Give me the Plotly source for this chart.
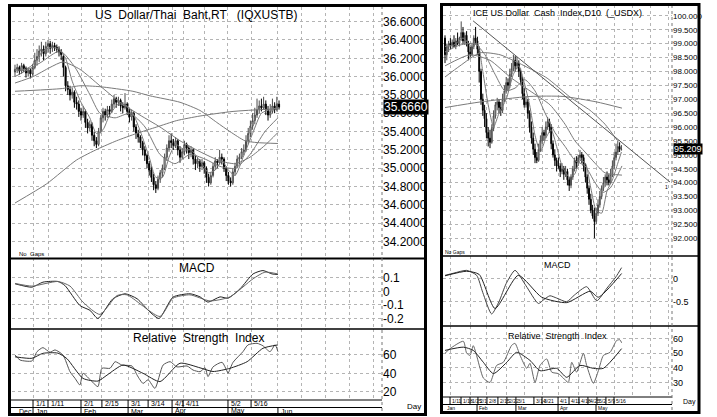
import plotly.graph_objects as go

W, H = 717, 417
FONT = "Liberation Sans Narrow, Arial Narrow, Liberation Sans, Arial, sans-serif"

# ---------------- Left chart: US Dollar / Thai Baht (daily bars, x = trading-day number) ----------------
thb_open = [36.05,36.08,36.10,36.06,36.12,36.09,36.04,36.07,36.03,36.10,
            36.18,36.22,36.28,36.30,36.25,36.33,36.36,36.31,36.34,36.32,
            36.30,36.27,36.22,36.10,35.90,35.86,35.80,35.83,35.72,35.70,
            35.62,35.58,35.62,35.50,35.44,35.48,35.36,35.30,35.26,35.40,
            35.55,35.62,35.58,35.64,35.62,35.70,35.76,35.72,35.74,35.68,
            35.66,35.70,35.62,35.56,35.60,35.45,35.38,35.34,35.28,35.20,
            35.14,35.05,34.98,34.90,34.82,34.78,34.88,34.95,35.00,35.12,
            35.22,35.30,35.28,35.25,35.30,35.20,35.12,35.18,35.26,35.22,
            35.17,35.20,35.10,35.05,35.08,35.02,35.06,35.00,34.90,34.84,
            34.92,35.02,35.08,35.06,35.12,35.10,35.00,34.92,34.86,34.84,
            34.96,35.02,35.10,35.12,35.18,35.20,35.30,35.38,35.46,35.52,
            35.58,35.64,35.68,35.66,35.70,35.64,35.58,35.62,35.68,35.64,
            35.70]
thb_high = [36.13,36.14,36.12,36.15,36.14,36.11,36.10,36.09,36.14,36.26,
            36.30,36.34,36.38,36.34,36.38,36.40,36.39,36.38,36.37,36.35,
            36.33,36.30,36.24,36.12,35.95,35.90,35.88,35.85,35.78,35.74,
            35.66,35.68,35.64,35.54,35.52,35.50,35.40,35.34,35.44,35.58,
            35.66,35.65,35.68,35.68,35.75,35.80,35.78,35.78,35.76,35.72,
            35.82,35.72,35.66,35.64,35.62,35.48,35.42,35.36,35.30,35.24,
            35.16,35.08,35.02,34.94,34.86,34.92,34.98,35.04,35.16,35.26,
            35.36,35.38,35.32,35.34,35.32,35.24,35.22,35.30,35.28,35.24,
            35.24,35.22,35.14,35.12,35.10,35.10,35.08,35.02,34.94,34.96,
            35.06,35.12,35.10,35.20,35.16,35.12,35.02,34.96,34.90,35.00,
            35.06,35.14,35.16,35.22,35.26,35.36,35.44,35.52,35.60,35.66,
            35.76,35.74,35.76,35.78,35.74,35.68,35.70,35.76,35.72,35.78,
            35.74]
thb_low = [36.00,36.04,36.02,36.03,36.05,35.99,36.00,35.98,36.01,36.08,
           36.12,36.16,36.22,36.18,36.22,36.26,36.25,36.27,36.28,36.26,
           36.22,36.18,36.00,35.84,35.80,35.74,35.76,35.66,35.64,35.56,
           35.52,35.55,35.44,35.38,35.40,35.30,35.24,35.22,35.24,35.38,
           35.50,35.52,35.55,35.56,35.60,35.66,35.66,35.68,35.62,35.60,
           35.64,35.58,35.50,35.52,35.40,35.32,35.28,35.22,35.14,35.08,
           35.00,34.92,34.85,34.76,34.73,34.76,34.84,34.90,34.98,35.08,
           35.18,35.22,35.20,35.22,35.14,35.06,35.10,35.14,35.16,35.10,
           35.12,35.04,34.98,35.00,34.96,34.98,34.94,34.84,34.80,34.82,
           34.90,34.98,35.00,35.04,35.04,34.96,34.86,34.82,34.80,34.82,
           34.92,35.00,35.04,35.10,35.14,35.18,35.26,35.34,35.42,35.48,
           35.55,35.60,35.62,35.64,35.58,35.52,35.55,35.60,35.60,35.62,
           35.64]
thb_close = [36.08,36.10,36.06,36.12,36.09,36.04,36.07,36.03,36.10,36.18,
             36.22,36.28,36.30,36.25,36.33,36.36,36.31,36.34,36.32,36.30,
             36.27,36.24,36.10,35.90,35.86,35.80,35.83,35.72,35.70,35.62,
             35.58,35.62,35.50,35.44,35.48,35.36,35.30,35.26,35.40,35.55,
             35.62,35.58,35.64,35.62,35.70,35.76,35.72,35.74,35.68,35.66,
             35.70,35.62,35.56,35.60,35.45,35.38,35.34,35.28,35.20,35.14,
             35.05,34.98,34.90,34.82,34.78,34.88,34.95,35.00,35.12,35.22,
             35.30,35.28,35.25,35.30,35.20,35.12,35.18,35.26,35.22,35.17,
             35.20,35.10,35.05,35.08,35.02,35.06,35.00,34.90,34.84,34.92,
             35.02,35.08,35.06,35.12,35.10,35.00,34.92,34.86,34.84,34.96,
             35.02,35.10,35.12,35.18,35.20,35.30,35.38,35.46,35.52,35.58,
             35.64,35.68,35.66,35.70,35.64,35.58,35.62,35.68,35.64,35.70,
             35.666]
thb_last = "35.6660"

# moving averages (day, value)
thb_ma_long_x = [0, 14.4, 28, 37.6, 46.2, 55.3, 64.4, 73.5, 84.1, 99.1, 119.5]
thb_ma_long_y = [34.62, 34.83, 35.09, 35.21, 35.30, 35.38, 35.45, 35.52, 35.57, 35.62, 35.65]
thb_ma100_x = [0, 21.5, 29.5, 38.6, 53.6, 61.4, 75, 84.1, 91.7, 97.7, 104.5, 110, 119.5]
thb_ma100_y = [35.84, 35.87, 35.90, 35.89, 35.84, 35.79, 35.72, 35.63, 35.50, 35.40, 35.30, 35.28, 35.27]
thb_ma50_x = [0, 8.2, 15.9, 21.8, 29.5, 38.6, 47.7, 56.8, 65.9, 75, 84.1, 93.2, 100, 106.8, 113.6, 119.5]
thb_ma50_y = [35.93, 36.00, 36.10, 36.16, 36.08, 35.90, 35.72, 35.58, 35.45, 35.30, 35.18, 35.08, 35.05, 35.12, 35.25, 35.39]
thb_ma20_x = [0, 11.4, 20.5, 27.3, 34.1, 38.6, 45.5, 52.3, 59.1, 65.9, 72.7, 79.5, 86.4, 93.2, 100, 106.8, 113.6, 119.5]
thb_ma20_y = [36.00, 36.15, 36.28, 36.10, 35.80, 35.60, 35.55, 35.60, 35.45, 35.15, 35.05, 35.15, 35.10, 35.02, 35.00, 35.15, 35.40, 35.55]
thb_ma5_x = [0, 5, 9, 12, 16, 20, 23, 26, 30, 34, 37, 40, 43, 47, 51, 54, 57, 61, 64, 67, 70, 73, 77, 80, 84, 88, 91, 94, 97, 100, 104, 108, 112, 116, 120]
thb_ma5_y = [36.07, 36.08, 36.15, 36.26, 36.32, 36.30, 36.20, 35.95, 35.72, 35.55, 35.38, 35.42, 35.58, 35.70, 35.68, 35.58, 35.40, 35.12, 34.90, 34.90,
             35.12, 35.26, 35.20, 35.20, 35.08, 34.95, 34.98, 35.08, 34.98, 34.92, 35.14, 35.38, 35.60, 35.64, 35.66]

thb_macd_x = [0, 7.7, 12.7, 19.5, 22.7, 29.5, 34.1, 37.7, 44.5, 50, 55.5, 61.4, 65.5, 71.8, 79.5, 84.1, 87.7, 93.2, 96.8, 102.3, 108.2, 112.7, 116.8, 119.5]
thb_macd_y = [0.057, 0.032, 0.069, 0.074, 0.044, -0.104, -0.14, -0.20, -0.054, -0.017, -0.054, -0.153, -0.20, -0.042, -0.017, -0.04, -0.079, -0.04, -0.05, 0.02, 0.13, 0.155, 0.13, 0.126]
thb_sig_x = [0, 7.7, 19.5, 25, 30.9, 38.6, 46.4, 50.9, 65.9, 71.8, 79.5, 88.6, 97.7, 108.2, 113.6, 119.5]
thb_sig_y = [0.06, 0.04, 0.074, 0.04, -0.079, -0.17, -0.03, -0.025, -0.185, -0.05, -0.025, -0.07, -0.04, 0.094, 0.143, 0.13]

thb_rsi_x = [0, 2.3, 7.7, 10, 12.7, 15.9, 18.2, 21.8, 25, 27.3, 29.5, 30.9, 35, 37.7, 39.5, 43.2, 45.5, 48.6, 53.2, 55.5, 58.2, 60.5, 63.6, 67.3,
             70.5, 73.6, 78.2, 80.9, 84.1, 86.4, 87.7, 90, 94.1, 96.4, 96.8, 99.1, 103.6, 105.9, 110, 112.7, 115.9, 118.2, 119.5]
thb_rsi_y = [60, 54.5, 53.5, 63.6, 68, 63, 65.5, 60, 41.8, 34.5, 27.3, 40, 31, 25.5, 45.5, 45.5, 52.7, 49, 48, 38, 29, 33, 23.6, 49,
             52.7, 47, 48, 43.6, 41.8, 46, 36.4, 47, 52, 42, 40, 52, 63.6, 71, 72.7, 70, 63.6, 71, 63.6]
thb_rsiavg_x = [0, 7.7, 12.7, 19.5, 23.6, 30.9, 37.7, 41.8, 49.1, 58.2, 65.9, 75, 84.1, 90, 97.7, 105.5, 112.7, 119.5]
thb_rsiavg_y = [58, 56.4, 61.8, 62, 56, 34.5, 31.6, 38, 49, 40, 31, 51, 46, 42, 45.5, 52.7, 67.3, 71]

thb_tick_x = [8.2, 15, 30, 39.5, 51.4, 60.5, 71.4, 76.4, 96.8, 107.3]
thb_tick_txt = ["1/1", "1/11", "2/1", "2/15", "3/1", "3/14", "4/1", "4/11", "5/2", "5/16"]
thb_month_x = [0.4, 8.2, 30, 51.4, 71.4, 96.8, 119.5]
thb_month_txt = ["Dec", "Jan", "Feb", "Mar", "Apr", "May", "Jun"]
thb_grid_x = [8.2, 15, 30, 39.5, 51.4, 60.5, 71.4, 76.4, 86, 96.8, 107.3, 119.5, 130, 141, 152, 163]

# ---------------- Right chart: ICE US Dollar Cash Index ----------------
usdx_open = [99.20,98.60,98.90,99.00,98.95,99.05,98.90,99.10,99.00,99.20,
             99.40,99.10,99.30,99.00,98.70,98.60,98.90,99.20,99.10,98.80,
             98.00,97.00,96.60,96.30,95.80,95.60,95.45,95.95,96.40,96.80,
             96.90,96.70,96.60,97.00,97.30,97.60,97.50,97.90,98.10,98.40,
             98.20,98.30,98.00,97.70,97.20,96.80,96.90,96.50,96.00,95.60,
             95.20,94.90,94.80,95.20,95.50,95.80,95.70,96.00,96.20,96.00,
             95.40,95.00,94.80,94.60,94.60,94.40,94.50,94.30,94.40,94.10,
             93.90,94.20,94.50,94.80,94.70,94.90,95.00,94.90,94.60,94.20,
             93.80,93.40,93.00,92.80,92.60,92.90,93.20,93.50,93.80,94.00,
             94.20,94.10,94.00,94.30,94.60,94.90,95.10,95.30,95.20]
usdx_high = [99.30,99.00,99.10,99.20,99.15,99.30,99.20,99.40,99.25,99.80,
             99.60,99.40,99.45,99.10,98.90,99.00,99.30,99.60,99.25,98.90,
             98.10,97.20,96.80,96.50,96.00,95.90,96.10,96.60,96.90,97.05,
             97.00,96.90,97.20,97.50,97.80,97.75,98.10,98.30,98.60,98.55,
             98.50,98.40,98.10,97.80,97.40,97.10,97.00,96.60,96.20,95.80,
             95.40,95.10,95.40,95.70,96.00,95.90,96.20,96.36,96.30,96.10,
             95.50,95.20,94.90,94.90,94.70,94.70,94.60,94.60,94.50,94.20,
             94.30,94.60,94.90,94.95,95.00,95.17,95.10,95.00,94.70,94.30,
             93.90,93.60,93.20,93.10,93.10,93.40,93.70,93.90,94.20,94.30,
             94.40,94.30,94.50,94.80,95.10,95.40,95.50,95.45,95.35]
usdx_low = [98.30,98.40,98.70,98.80,98.85,98.90,98.80,98.95,98.90,99.10,
            99.00,98.95,98.90,98.40,98.50,98.55,98.80,99.00,98.60,97.60,
            96.80,96.40,96.00,95.60,95.30,95.24,95.40,95.85,96.30,96.60,
            96.50,96.40,96.50,96.90,97.20,97.30,97.40,97.80,98.00,98.00,
            98.10,97.80,97.50,97.00,96.70,96.70,96.30,95.80,95.40,95.00,
            94.70,94.70,94.75,95.10,95.40,95.50,95.60,95.90,95.80,95.20,
            94.90,94.60,94.40,94.50,94.20,94.30,94.10,94.20,93.90,93.70,
            93.80,94.10,94.40,94.50,94.60,94.80,94.70,94.40,94.00,93.60,
            93.20,92.90,92.70,92.00,92.50,92.80,93.10,93.40,93.70,93.85,
            93.90,93.90,93.95,94.20,94.50,94.80,95.00,95.10,95.15]
usdx_close = [98.60,98.90,99.00,98.95,99.05,98.90,99.10,99.00,99.20,99.40,
              99.10,99.30,99.00,98.70,98.60,98.90,99.20,99.10,98.80,98.00,
              97.00,96.60,96.30,95.80,95.60,95.45,95.95,96.40,96.80,96.90,
              96.70,96.60,97.00,97.30,97.60,97.50,97.90,98.10,98.40,98.20,
              98.30,98.00,97.70,97.20,96.80,96.90,96.50,96.00,95.60,95.20,
              94.90,94.80,95.20,95.50,95.80,95.70,96.00,96.20,96.00,95.40,
              95.00,94.80,94.60,94.60,94.40,94.50,94.30,94.40,94.10,93.90,
              94.20,94.50,94.80,94.70,94.90,95.00,94.90,94.60,94.20,93.80,
              93.40,93.00,92.80,92.60,92.90,93.20,93.50,93.80,94.00,94.20,
              94.10,94.00,94.30,94.60,94.90,95.10,95.30,95.20,95.209]
usdx_last = "95.209"

usdx_trend_x = [15.6, 125]
usdx_trend_y = [99.82, 94.02]
usdx_ma_long_x = [0, 19.4, 47.2, 65.6, 84.4, 98.3]
usdx_ma_long_y = [96.70, 96.90, 97.10, 97.10, 96.90, 96.68]
usdx_ma100_x = [0, 8.3, 19.4, 30.6, 37.8, 47.2, 56.7, 69.4, 80.6, 88.9, 95.6]
usdx_ma100_y = [97.80, 98.20, 98.67, 98.60, 98.40, 98.10, 97.76, 97.08, 96.60, 96.10, 95.53]
usdx_ma50_x = [0, 13.9, 25, 36.1, 47.2, 58.3, 66.7, 72.2, 77.8, 83.3, 88.9, 98.3]
usdx_ma50_y = [98.20, 98.60, 98.40, 97.80, 97.30, 96.80, 96.10, 95.50, 95.10, 94.70, 94.35, 94.27]
usdx_ma20_x = [0, 8.3, 16.7, 22.2, 27.8, 33.3, 38.9, 44.4, 50, 55.6, 61.1, 66.7, 72.2, 77.8, 83.3, 87.8, 91.7, 96.1, 98.3]
usdx_ma20_y = [98.70, 98.95, 99.00, 98.60, 97.90, 97.30, 97.40, 97.70, 97.30, 96.50, 95.80, 95.30, 94.80, 94.60, 94.00, 93.65, 93.80, 94.30, 94.60]
usdx_ma5_x = [0, 5, 10, 15, 18, 21, 24, 27, 30, 34, 38, 41, 44, 47, 50, 53, 56, 59, 62, 65, 69, 72, 75, 78, 81, 84, 87, 90, 93, 96, 98]
usdx_ma5_y = [98.90, 98.95, 99.20, 98.90, 99.00, 98.00, 96.80, 96.00, 96.50, 97.00, 97.90, 98.20, 97.60, 96.80, 95.70, 95.10, 95.60, 95.90, 95.30, 94.60,
              94.20, 94.30, 94.80, 94.70, 93.80, 93.00, 92.90, 93.70, 94.10, 94.70, 95.10]

usdx_macd_x = [0, 5, 12, 17.6, 21, 25.9, 30, 34, 38.9, 45, 51.9, 55, 58.3, 62, 67.6, 72, 78.7, 84.3, 90, 95, 98.1]
usdx_macd_y = [0.08, 0.13, 0.19, 0.08, -0.30, -0.77, -0.50, -0.10, 0.19, -0.15, -0.54, -0.45, -0.37, -0.42, -0.50, -0.35, -0.17, -0.48, -0.20, 0.05, 0.25]
usdx_sig_x = [0, 12, 19, 27.8, 40.7, 53.7, 67.6, 80.6, 85.2, 98.1]
usdx_sig_y = [0.07, 0.17, 0.10, -0.65, 0.08, -0.40, -0.52, -0.27, -0.40, 0.12]
usdx_rsi_x = [0, 2.8, 10.2, 12, 13.9, 15.7, 19.4, 21.3, 25, 28.7, 32.4, 37, 38.9, 41.7, 45.4, 47.2, 50, 52.8, 56.5, 59.3, 63, 65.7, 68.5,
              70.4, 73.1, 76.9, 78.7, 82.4, 85.2, 88, 91.7, 95.4, 97.2, 98.1]
usdx_rsi_y = [49.8, 53, 58, 50, 48.4, 55, 40, 33, 30, 41.6, 43.7, 55.2, 56.6, 48.4, 39.6, 43, 30, 41.6, 46, 37, 36, 33, 30,
              43.7, 37, 49.8, 41.6, 29.4, 38, 48.4, 50.5, 58.6, 59, 57]
usdx_rsiavg_x = [0, 10.2, 15.7, 21.3, 26.9, 34.3, 39.8, 47.2, 52.8, 62, 67.6, 75, 82.4, 88, 98.1]
usdx_rsiavg_y = [51.8, 54, 51.8, 43.7, 36, 43.7, 50.5, 45, 38, 39.6, 33.5, 41.6, 39.6, 39.6, 53]

usdx_tick_x = [2.8, 8.9, 13.9, 18.3, 23.3, 29.4, 34.4, 39.4, 49.4, 53.9, 62.8, 68.9, 74.4, 79.4, 84.4, 89.4, 93.9]
usdx_tick_txt = ["1/11", "1/18", "1/25", "2/1", "2/8", "2/15", "2/22", "3/1", "3/14", "3/21", "4/1", "4/11", "4/18", "4/25", "5/2", "5/9", "5/16"]
usdx_month_x = [0, 17.8, 39.4, 62.8, 83.9]
usdx_month_txt = ["Jan", "Feb", "Mar", "Apr", "May"]
usdx_grid_x = [2.8, 13.9, 23.3, 34.4, 44.4, 53.9, 62.8, 74.4, 84.4, 93.9, 104, 114, 124]


# ---------------- layout helpers (pixel geometry -> paper) ----------------
def xd(a, b):
    return [a / W, b / W]


def yd(top, bottom):
    return [1 - bottom / H, 1 - top / H]


def px(x):
    return x / W


def py(y):
    return 1 - y / H


fig = go.Figure()

GRID = "#b4b4b4"
MA_C = "#7a7a7a"


def candles(o, h, l, c, xa, ya):
    return go.Candlestick(
        x=list(range(len(c))), open=o, high=h, low=l, close=c,
        xaxis=xa, yaxis=ya,
        increasing=dict(line=dict(color="#4a4a4a", width=1), fillcolor="white"),
        decreasing=dict(line=dict(color="black", width=1), fillcolor="black"),
        whiskerwidth=0, hoverinfo="skip", showlegend=False)


def line(x, y, xa, ya, color=MA_C, width=1):
    return go.Scatter(x=x, y=y, xaxis=xa, yaxis=ya, mode="lines",
                      line=dict(color=color, width=width, shape="spline", smoothing=0.6),
                      hoverinfo="skip", showlegend=False)


# left chart traces
for mx, my in [(thb_ma_long_x, thb_ma_long_y), (thb_ma100_x, thb_ma100_y),
               (thb_ma50_x, thb_ma50_y), (thb_ma20_x, thb_ma20_y), (thb_ma5_x, thb_ma5_y)]:
    fig.add_trace(line(mx, my, "x", "y"))
fig.add_trace(candles(thb_open, thb_high, thb_low, thb_close, "x", "y"))
fig.add_trace(line(thb_macd_x, thb_macd_y, "x2", "y2", "#222"))
fig.add_trace(line(thb_sig_x, thb_sig_y, "x2", "y2", "#666"))
fig.add_trace(line(thb_rsi_x, thb_rsi_y, "x3", "y3", "#555"))
fig.add_trace(line(thb_rsiavg_x, thb_rsiavg_y, "x3", "y3", "#222"))

# right chart traces
for mx, my in [(usdx_ma_long_x, usdx_ma_long_y), (usdx_ma100_x, usdx_ma100_y),
               (usdx_ma50_x, usdx_ma50_y), (usdx_ma20_x, usdx_ma20_y), (usdx_ma5_x, usdx_ma5_y)]:
    fig.add_trace(line(mx, my, "x4", "y4"))
fig.add_trace(go.Scatter(x=usdx_trend_x, y=usdx_trend_y, xaxis="x4", yaxis="y4", mode="lines",
                         line=dict(color="#555", width=1), hoverinfo="skip", showlegend=False))
fig.add_trace(candles(usdx_open, usdx_high, usdx_low, usdx_close, "x4", "y4"))
fig.add_trace(line(usdx_macd_x, usdx_macd_y, "x5", "y5", "#444"))
fig.add_trace(line(usdx_sig_x, usdx_sig_y, "x5", "y5", "#222"))
fig.add_trace(line(usdx_rsi_x, usdx_rsi_y, "x6", "y6", "#666"))
fig.add_trace(line(usdx_rsiavg_x, usdx_rsiavg_y, "x6", "y6", "#222"))

# ---------------- axes ----------------
LX = xd(12, 382)
RX = xd(443, 672)
LXR = [-1.36, 166.8]
RXR = [-1.11, 126.1]


def xax(dom, rng, grid, anchor):
    return dict(domain=dom, range=rng, anchor=anchor, showticklabels=False, ticks="",
                tickmode="array", tickvals=grid, showgrid=True, gridcolor=GRID, griddash="dot",
                gridwidth=1, zeroline=False, showline=False, fixedrange=True,
                rangeslider=dict(visible=False))


def yax(dom, rng, vals, txt, anchor, size):
    return dict(domain=dom, range=rng, anchor=anchor, side="right", tickmode="array",
                tickvals=vals, ticktext=txt, ticks="", showgrid=True, gridcolor=GRID,
                griddash="dot", gridwidth=1, zeroline=False, showline=False,
                tickfont=dict(family=FONT, size=size, color="black"), fixedrange=True)


thb_yvals = [34.2, 34.4, 34.6, 34.8, 35.0, 35.2, 35.4, 35.6, 35.8, 36.0, 36.2, 36.4, 36.6]
usdx_yvals = [92.0, 92.5, 93.0, 93.5, 94.0, 94.5, 95.0, 95.5, 96.0, 96.5, 97.0, 97.5, 98.0, 98.5, 99.0, 99.5, 100.0]

fig.update_layout(
    xaxis=xax(LX, LXR, thb_grid_x, "y"),
    yaxis=yax(yd(7, 258), [34.02, 36.76], thb_yvals, ["%.4f" % v for v in thb_yvals], "x", 12),
    xaxis2=xax(LX, LXR, thb_grid_x, "y2"),
    yaxis2=yax(yd(258, 329), [-0.278, 0.248], [0.1, 0, -0.1, -0.2], ["0.1", "0", "-0.1", "-0.2"], "x2", 12),
    xaxis3=xax(LX, LXR, thb_grid_x, "y3"),
    yaxis3=yax(yd(329, 400), [10.95, 88.3], [20, 40, 60], ["20", "40", "60"], "x3", 12),
    xaxis4=xax(RX, RXR, usdx_grid_x, "y4"),
    yaxis4=yax(yd(5, 256), [91.36, 100.39], usdx_yvals, ["%.3f" % v for v in usdx_yvals], "x4", 8),
    xaxis5=xax(RX, RXR, usdx_grid_x, "y5"),
    yaxis5=yax(yd(256, 326), [-1.035, 0.506], [0, -0.5], ["0", "-0.5"], "x5", 9),
    xaxis6=xax(RX, RXR, usdx_grid_x, "y6"),
    yaxis6=yax(yd(326, 397), [20.1, 68.4], [30, 40, 50, 60], ["30", "40", "50", "60"], "x6", 9),
)

# ---------------- frames & separators ----------------
shapes = []


def hline(x0, x1, y, w=1, color="black", dash=None):
    d = dict(type="line", xref="paper", yref="paper", x0=px(x0), x1=px(x1), y0=py(y), y1=py(y),
             line=dict(color=color, width=w))
    if dash:
        d["line"]["dash"] = dash
    shapes.append(d)


def vline(x, y0, y1, w=1, color="black", dash=None):
    d = dict(type="line", xref="paper", yref="paper", x0=px(x), x1=px(x), y0=py(y0), y1=py(y1),
             line=dict(color=color, width=w))
    if dash:
        d["line"]["dash"] = dash
    shapes.append(d)


# left
hline(10, 425, 258.5, 2)
hline(10, 425, 329, 1.5)
hline(10, 382, 400, 1)
hline(10, 382, 407.5, 1)
vline(382, 6, 414, 1, "#777", "dot")
shapes.append(dict(type="rect", xref="paper", yref="paper", x0=px(9.5), x1=px(425.5), y0=py(414.5), y1=py(5.5),
                   line=dict(color="black", width=3)))
# right
hline(442, 698, 256, 1.5)
hline(442, 698, 326, 1.5)
hline(442, 672, 397, 1)
hline(442, 672, 404.5, 1)
vline(672, 5, 412, 1, "#777", "dot")
shapes.append(dict(type="rect", xref="paper", yref="paper", x0=px(441.5), x1=px(699), y0=py(412.5), y1=py(4.5),
                   line=dict(color="black", width=3)))

# date tick marks
for tx in thb_tick_x:
    shapes.append(dict(type="line", xref="x3", yref="paper", x0=tx, x1=tx, y0=py(400), y1=py(407.5),
                       line=dict(color="black", width=1)))
for tx in thb_month_x[1:]:
    shapes.append(dict(type="line", xref="x3", yref="paper", x0=tx, x1=tx, y0=py(407.5), y1=py(414),
                       line=dict(color="black", width=1)))
for tx in usdx_tick_x:
    shapes.append(dict(type="line", xref="x6", yref="paper", x0=tx, x1=tx, y0=py(397), y1=py(404.5),
                       line=dict(color="black", width=1)))
for tx in usdx_month_x[1:]:
    shapes.append(dict(type="line", xref="x6", yref="paper", x0=tx, x1=tx, y0=py(404.5), y1=py(412),
                       line=dict(color="black", width=1)))

fig.update_layout(shapes=shapes)

# ---------------- text ----------------
ann = []


def text(x, y, s, size, anchor="center", color="black", **kw):
    d = dict(xref="paper", yref="paper", x=px(x), y=py(y), text=s, showarrow=False,
             xanchor=anchor, yanchor="middle", font=dict(family=FONT, size=size, color=color))
    d.update(kw)
    ann.append(d)


text(196, 15, "US&nbsp;&nbsp;Dollar/Thai&nbsp;&nbsp;Baht,RT&nbsp;&nbsp;&nbsp;(IQXUSTB)", 12)
text(197, 268, "MACD", 12)
text(198, 338, "Relative&nbsp;&nbsp;Strength&nbsp;&nbsp;Index", 12)
text(17, 254, "No&nbsp;&nbsp;Gaps", 6, "left")
text(414, 406, "Day", 8)

text(557, 13, "ICE&nbsp;US&nbsp;Dollar&nbsp;&nbsp;Cash&nbsp;&nbsp;Index,D10&nbsp;&nbsp;(_USDX)", 9)
text(557, 265, "MACD", 9)
text(557, 336, "Relative&nbsp;&nbsp;Strength&nbsp;&nbsp;Index", 9)
text(443, 252, "No&nbsp;Gaps", 5, "left")
text(689, 402, "Day", 7)

for tx, s in zip(thb_tick_x, thb_tick_txt):
    ann.append(dict(xref="x3", yref="paper", x=tx, y=py(403.8), text=s, showarrow=False, xanchor="left",
                    yanchor="middle", xshift=1, font=dict(family=FONT, size=7, color="black")))
for tx, s in zip(thb_month_x, thb_month_txt):
    ann.append(dict(xref="x3", yref="paper", x=tx, y=py(411), text=s, showarrow=False, xanchor="left",
                    yanchor="middle", xshift=1, font=dict(family=FONT, size=7, color="black")))
for tx, s in zip(usdx_tick_x, usdx_tick_txt):
    ann.append(dict(xref="x6", yref="paper", x=tx, y=py(400.8), text=s, showarrow=False, xanchor="left",
                    yanchor="middle", xshift=0, font=dict(family=FONT, size=5, color="black")))
for tx, s in zip(usdx_month_x, usdx_month_txt):
    ann.append(dict(xref="x6", yref="paper", x=tx, y=py(408.3), text=s, showarrow=False, xanchor="left",
                    yanchor="middle", xshift=0, font=dict(family=FONT, size=5, color="black")))

# last-price boxes
ann.append(dict(xref="paper", yref="y", x=px(383), y=35.666, text=thb_last, showarrow=False, xanchor="left",
                yanchor="middle", bgcolor="black", borderpad=0,
                font=dict(family=FONT, size=12, color="white")))
ann.append(dict(xref="paper", yref="y4", x=px(673), y=95.209, text=usdx_last, showarrow=False, xanchor="left",
                yanchor="middle", bgcolor="black", borderpad=0,
                font=dict(family=FONT, size=9, color="white")))
ann.append(dict(xref="x4", yref="y4", x=usdx_trend_x[1], y=usdx_trend_y[1], text="1", showarrow=False,
                xanchor="right", yanchor="top", font=dict(family=FONT, size=5, color="black")))

fig.update_layout(annotations=ann)

fig.update_layout(width=W, height=H, margin=dict(l=0, r=0, t=0, b=0),
                  paper_bgcolor="white", plot_bgcolor="white", showlegend=False,
                  font=dict(family=FONT, color="black"))

fig.write_html("out.html", config={"displayModeBar": False, "staticPlot": True},
               post_script="document.body.style.margin='0';document.body.style.overflow='hidden';")
